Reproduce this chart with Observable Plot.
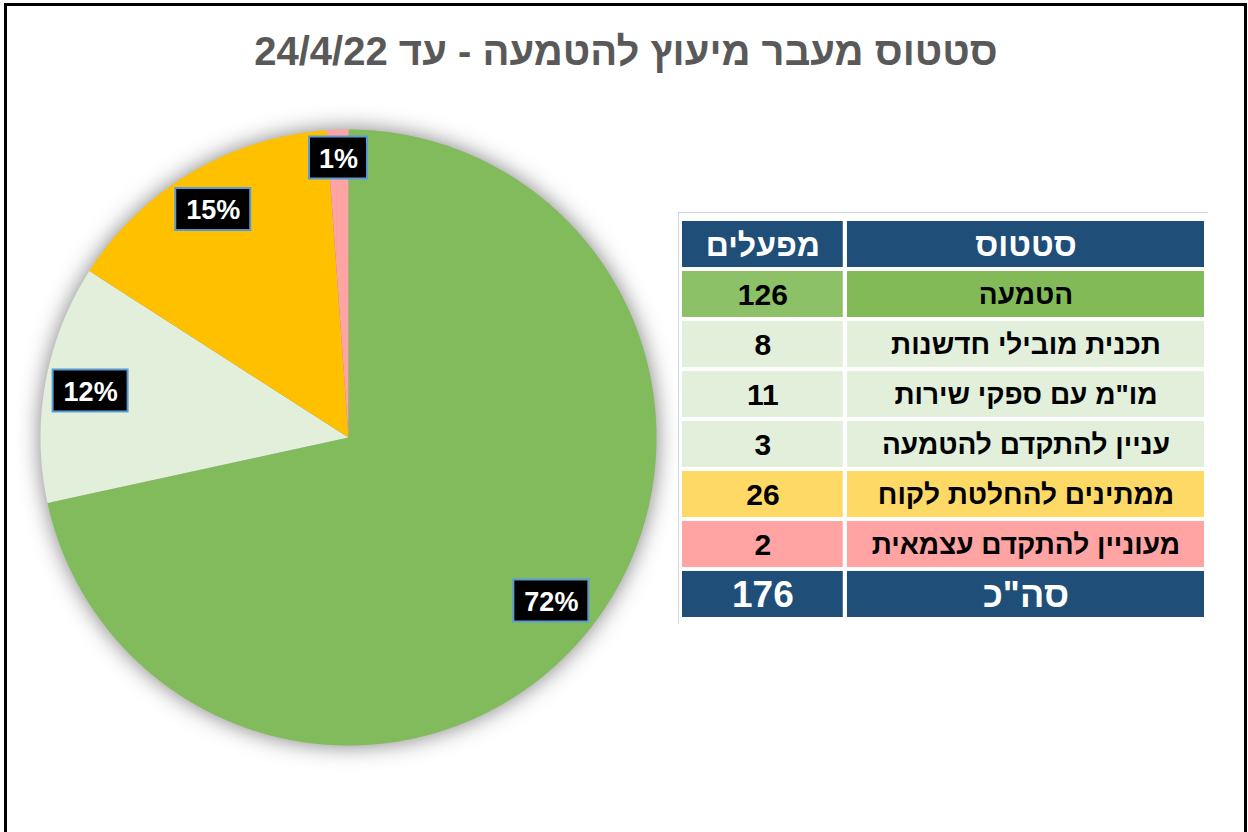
<!DOCTYPE html>
<html><head><meta charset="utf-8">
<script src="https://cdn.jsdelivr.net/npm/d3@7"></script>
<script src="https://cdn.jsdelivr.net/npm/@observablehq/plot@0.6"></script>
<style>
html,body{margin:0;padding:0;background:#fff;}
body{width:1248px;height:832px;overflow:hidden;position:relative;font-family:"Liberation Sans",Arial,sans-serif;}
#frame{position:absolute;left:4px;top:3px;width:1237px;height:900px;border:3px solid #000;}
#title{position:absolute;left:2px;top:31px;width:1248px;text-align:center;font-weight:bold;font-size:40px;line-height:1;color:#595959;direction:rtl;white-space:nowrap;}
#pie{position:absolute;left:18px;top:107px;}
#table{position:absolute;left:678px;top:212px;}
</style></head>
<body>
<div id="frame"></div>
<div id="title">סטטוס מעבר מיעוץ להטמעה - עד 24/4/22</div>
<div id="pie"></div>
<div id="table"></div>
<script>
// ---- data ----
const headers = ["סטטוס", "מפעלים"];
const statuses = ["הטמעה", "תכנית מובילי חדשנות", "מו\"מ עם ספקי שירות", "עניין להתקדם להטמעה", "ממתינים להחלטת לקוח", "מעוניין להתקדם עצמאית"];
const counts = [126, 8, 11, 3, 26, 2];
const totalLabel = "סה\"כ";
const pieGroup = [0, 1, 1, 1, 2, 3];           // pie slice that each status belongs to
const pieColors = ["#82BB5B", "#E2EFDA", "#FFC000", "#FFA3A3"];
const pieLabels = ["72%", "12%", "15%", "1%"];
const statusFill = ["#82BA58", "#E2EFDA", "#E2EFDA", "#E2EFDA", "#FFD966", "#FFA3A3"];
const countFill  = ["#8CC168", "#E2EFDA", "#E2EFDA", "#E2EFDA", "#FFD966", "#FFA3A3"];
const headFill = "#1F4E79";

// ---- pie ----
const total = d3.sum(counts);
const sliceVals = pieColors.map((_, g) => d3.sum(counts.filter((c, i) => pieGroup[i] === g)));
let acc = 0;
const slices = sliceVals.map((v, g) => {
  const a0 = acc / total * 2 * Math.PI; acc += v;
  const a1 = acc / total * 2 * Math.PI;
  return {g, a0, a1, color: pieColors[g], label: pieLabels[g]};
});
const pts = [];
for (const s of slices) {
  pts.push({x: 0, y: 0, g: s.g, color: s.color});
  const n = Math.max(2, Math.ceil((s.a1 - s.a0) / 0.005));
  for (let k = 0; k <= n; k++) {
    const a = s.a0 + (s.a1 - s.a0) * k / n;
    pts.push({x: Math.sin(a), y: Math.cos(a), g: s.g, color: s.color});
  }
  pts.push({x: 0, y: 0, g: s.g, color: s.color});
}
const R = 308, PAD = 5;
// "inside end" labels: the box's outer corner sits just inside the rim
const labels = slices.map(s => {
  const m = (s.a0 + s.a1) / 2;
  const ux = Math.sin(m), uy = Math.cos(m);
  const w = (17 * s.label.length + 24) / 2, h = 21;
  const a = Math.abs(ux), b = Math.abs(uy), D = R - PAD;
  const p = a * w + b * h;
  const r = -p + Math.sqrt(p * p - (w * w + h * h - D * D));
  return {x: r / R * ux, y: r / R * uy, hw: w / R, hh: h / R, label: s.label};
});
const pie = Plot.plot({
  width: 660, height: 660,
  marginTop: 22, marginBottom: 22, marginLeft: 22, marginRight: 22,
  x: {domain: [-1, 1], axis: null},
  y: {domain: [-1, 1], axis: null},
  color: {type: "identity"},
  style: {background: "transparent", overflow: "visible"},
  marks: [
    Plot.line(pts, {x: "x", y: "y", z: "g", fill: "color", stroke: "none", curve: "linear"}),
    Plot.rect(labels, {x1: d => d.x - d.hw, x2: d => d.x + d.hw, y1: d => d.y - d.hh, y2: d => d.y + d.hh, fill: "#000", stroke: "#5B9BD5", strokeWidth: 2}),
    Plot.text(labels, {x: "x", y: "y", text: "label", fill: "#fff", fontSize: 27, fontWeight: "bold", fontFamily: "Liberation Sans, Arial, sans-serif", dy: 1})
  ]
});
d3.select(pie).select('g[aria-label="line"]').style("filter", "drop-shadow(0px 0px 11px rgba(0,0,0,0.5))");
document.getElementById("pie").appendChild(pie);

// ---- table ----
const SPLIT = 0.308, GAP = 0.008;
const rows = [];
rows.push({row: 0, status: headers[0], count: headers[1], sf: headFill, cf: headFill, tc: "#fff", fsS: 33, fsC: 32});
statuses.forEach((s, i) => rows.push({row: i + 1, status: s, count: String(counts[i]), sf: statusFill[i], cf: countFill[i], tc: "#000", fsS: 28, fsC: 30}));
rows.push({row: statuses.length + 1, status: totalLabel, count: String(total), sf: headFill, cf: headFill, tc: "#fff", fsS: 36, fsC: 37});
const cells = [];
for (const r of rows) {
  cells.push({row: r.row, x1: 0, x2: SPLIT, text: r.count, fill: r.cf, tc: r.tc, fs: r.fsC});
  cells.push({row: r.row, x1: SPLIT + GAP, x2: 1, text: r.status, fill: r.sf, tc: r.tc, fs: r.fsS});
}
const table = Plot.plot({
  width: 530, height: 412,
  marginTop: 0, marginBottom: 0, marginLeft: 0, marginRight: 0,
  x: {domain: [0, 1], range: [4, 526], axis: null},
  y: {domain: d3.range(rows.length), range: [5, 408], paddingInner: 0.09, paddingOuter: 0, axis: null},
  color: {type: "identity"},
  style: {background: "transparent", fontFamily: "Liberation Sans, Arial, sans-serif"},
  marks: [
    Plot.frame({stroke: "#cfd8e2", strokeWidth: 1}),
    Plot.barX(cells, {x1: "x1", x2: "x2", y: "row", fill: "fill"}),
    Plot.text(cells, {x: d => (d.x1 + d.x2) / 2, y: "row", text: "text", fill: "tc", fontSize: "fs", fontWeight: "bold", dy: 1})
  ]
});
document.getElementById("table").appendChild(table);
</script>
</body></html>
